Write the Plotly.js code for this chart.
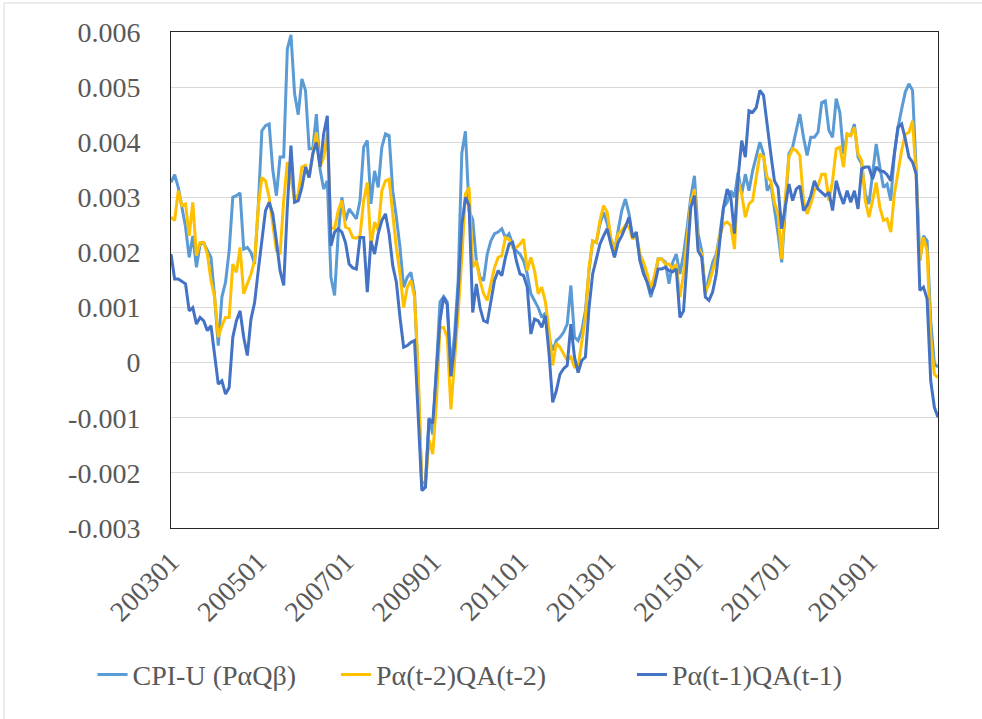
<!DOCTYPE html>
<html>
<head>
<meta charset="utf-8">
<script src="https://cdn.plot.ly/plotly-3.0.1.min.js"></script>
<style>html,body{margin:0;padding:0;background:#fff;}#chart{width:982px;height:719px;}</style>
</head>
<body>
<div id="chart"></div>
<script>
const months = [
'200301','200302','200303','200304','200305','200306','200307','200308','200309','200310','200311','200312',
'200401','200402','200403','200404','200405','200406','200407','200408','200409','200410','200411','200412',
'200501','200502','200503','200504','200505','200506','200507','200508','200509','200510','200511','200512',
'200601','200602','200603','200604','200605','200606','200607','200608','200609','200610','200611','200612',
'200701','200702','200703','200704','200705','200706','200707','200708','200709','200710','200711','200712',
'200801','200802','200803','200804','200805','200806','200807','200808','200809','200810','200811','200812',
'200901','200902','200903','200904','200905','200906','200907','200908','200909','200910','200911','200912',
'201001','201002','201003','201004','201005','201006','201007','201008','201009','201010','201011','201012',
'201101','201102','201103','201104','201105','201106','201107','201108','201109','201110','201111','201112',
'201201','201202','201203','201204','201205','201206','201207','201208','201209','201210','201211','201212',
'201301','201302','201303','201304','201305','201306','201307','201308','201309','201310','201311','201312',
'201401','201402','201403','201404','201405','201406','201407','201408','201409','201410','201411','201412',
'201501','201502','201503','201504','201505','201506','201507','201508','201509','201510','201511','201512',
'201601','201602','201603','201604','201605','201606','201607','201608','201609','201610','201611','201612',
'201701','201702','201703','201704','201705','201706','201707','201708','201709','201710','201711','201712',
'201801','201802','201803','201804','201805','201806','201807','201808','201809','201810','201811','201812',
'201901','201902','201903','201904','201905','201906','201907','201908','201909','201910','201911','201912',
'202001','202002','202003','202004','202005','202006','202007','202008'
];

const cpiU = [
0.00327,0.00341,0.00318,0.00282,0.00246,0.00191,0.00230,0.00173,0.00215,0.00217,0.00203,0.00191,
0.00119,0.00031,0.00119,0.00146,0.00203,0.00300,0.00303,0.00308,0.00206,0.00209,0.00200,0.00179,
0.00282,0.00421,0.00430,0.00433,0.00350,0.00303,0.00373,0.00373,0.00569,0.00595,0.00488,0.00450,
0.00515,0.00494,0.00388,0.00388,0.00451,0.00351,0.00315,0.00330,0.00155,0.00122,0.00234,0.00300,
0.00258,0.00279,0.00270,0.00261,0.00294,0.00391,0.00403,0.00288,0.00348,0.00318,0.00391,0.00415,
0.00412,0.00312,0.00264,0.00209,0.00137,0.00155,0.00164,0.00125,-0.00030,-0.00225,-0.00215,-0.00100,
-0.00130,-0.00020,0.00110,0.00120,0.00110,-0.00010,0.00050,0.00150,0.00380,0.00420,0.00275,0.00260,
0.00185,0.00155,0.00149,0.00197,0.00221,0.00234,0.00237,0.00243,0.00227,0.00234,0.00215,0.00203,
0.00197,0.00185,0.00161,0.00125,0.00113,0.00100,0.00082,0.00090,0.00045,0.00022,0.00040,0.00046,
0.00055,0.00070,0.00140,0.00046,0.00040,0.00058,0.00094,0.00167,0.00221,0.00218,0.00252,0.00273,
0.00252,0.00224,0.00203,0.00243,0.00276,0.00297,0.00270,0.00227,0.00234,0.00188,0.00167,0.00146,
0.00119,0.00146,0.00188,0.00188,0.00182,0.00143,0.00182,0.00197,0.00161,0.00197,0.00246,0.00300,
0.00339,0.00234,0.00203,0.00125,0.00155,0.00182,0.00197,0.00234,0.00282,0.00291,0.00312,0.00300,
0.00345,0.00306,0.00342,0.00312,0.00348,0.00376,0.00400,0.00379,0.00312,0.00324,0.00282,0.00234,
0.00182,0.00282,0.00379,0.00391,0.00421,0.00451,0.00409,0.00376,0.00409,0.00409,0.00418,0.00472,
0.00475,0.00421,0.00409,0.00479,0.00454,0.00379,0.00415,0.00412,0.00433,0.00373,0.00361,0.00306,
0.00288,0.00342,0.00397,0.00355,0.00318,0.00324,0.00294,0.00379,0.00427,0.00460,0.00491,0.00506,
0.00494,0.00348,0.00185,0.00230,0.00221,0.00076,-0.00002,-0.00008
];

const lagTwo = [
0.00264,0.00258,0.00312,0.00285,0.00288,0.00230,0.00291,0.00194,0.00218,0.00218,0.00197,0.00149,
0.00119,0.00046,0.00067,0.00082,0.00082,0.00179,0.00164,0.00209,0.00125,0.00143,0.00161,0.00185,
0.00282,0.00336,0.00330,0.00300,0.00252,0.00203,0.00197,0.00294,0.00364,0.00336,0.00294,0.00306,
0.00355,0.00358,0.00336,0.00379,0.00418,0.00355,0.00373,0.00415,0.00246,0.00243,0.00276,0.00294,
0.00246,0.00243,0.00227,0.00226,0.00230,0.00294,0.00327,0.00209,0.00255,0.00240,0.00312,0.00330,
0.00333,0.00270,0.00209,0.00161,0.00100,0.00137,0.00149,0.00119,-0.00015,-0.00226,-0.00220,-0.00140,
-0.00166,-0.00075,0.00064,0.00064,0.00046,-0.00085,0.00000,0.00090,0.00190,0.00306,0.00318,0.00173,
0.00185,0.00149,0.00125,0.00113,0.00143,0.00173,0.00191,0.00194,0.00227,0.00224,0.00209,0.00209,
0.00215,0.00224,0.00167,0.00191,0.00167,0.00125,0.00137,0.00110,0.00058,-0.00005,0.00035,0.00028,
0.00016,0.00004,0.00010,-0.00008,-0.00008,0.00040,0.00082,0.00173,0.00221,0.00218,0.00258,0.00285,
0.00273,0.00227,0.00203,0.00234,0.00240,0.00249,0.00246,0.00224,0.00234,0.00197,0.00182,0.00161,
0.00134,0.00158,0.00188,0.00188,0.00179,0.00179,0.00170,0.00179,0.00119,0.00161,0.00227,0.00291,
0.00315,0.00209,0.00197,0.00128,0.00143,0.00167,0.00191,0.00230,0.00252,0.00255,0.00249,0.00206,
0.00330,0.00306,0.00264,0.00288,0.00294,0.00336,0.00379,0.00373,0.00336,0.00330,0.00291,0.00270,
0.00188,0.00300,0.00373,0.00388,0.00385,0.00376,0.00294,0.00270,0.00288,0.00312,0.00321,0.00342,
0.00342,0.00294,0.00330,0.00388,0.00391,0.00355,0.00415,0.00412,0.00427,0.00379,0.00367,0.00294,
0.00264,0.00294,0.00327,0.00282,0.00258,0.00261,0.00237,0.00306,0.00348,0.00385,0.00415,0.00418,
0.00439,0.00339,0.00185,0.00227,0.00203,0.00046,-0.00021,-0.00027
];

const lagOne = [
0.00197,0.00152,0.00152,0.00148,0.00143,0.00094,0.00100,0.00070,0.00082,0.00076,0.00058,0.00067,
0.00010,-0.00039,-0.00033,-0.00057,-0.00045,0.00046,0.00076,0.00094,0.00046,0.00013,0.00079,0.00109,
0.00167,0.00227,0.00276,0.00291,0.00270,0.00221,0.00167,0.00140,0.00282,0.00394,0.00291,0.00294,
0.00318,0.00355,0.00336,0.00379,0.00400,0.00355,0.00415,0.00448,0.00212,0.00237,0.00243,0.00237,
0.00218,0.00179,0.00172,0.00170,0.00227,0.00227,0.00128,0.00221,0.00197,0.00234,0.00258,0.00270,
0.00234,0.00176,0.00146,0.00082,0.00028,0.00031,0.00037,0.00040,-0.00099,-0.00232,-0.00226,-0.00102,
-0.00110,-0.00015,0.00076,0.00119,0.00105,-0.00025,0.00030,0.00130,0.00250,0.00300,0.00285,0.00091,
0.00143,0.00100,0.00076,0.00073,0.00113,0.00149,0.00167,0.00158,0.00191,0.00215,0.00218,0.00185,
0.00161,0.00158,0.00137,0.00052,0.00079,0.00076,0.00064,0.00085,0.00016,-0.00072,-0.00051,-0.00021,
-0.00011,-0.00005,0.00070,0.00010,-0.00018,0.00004,0.00010,0.00100,0.00161,0.00191,0.00215,0.00230,
0.00243,0.00215,0.00191,0.00218,0.00230,0.00246,0.00264,0.00227,0.00237,0.00185,0.00161,0.00146,
0.00125,0.00140,0.00170,0.00170,0.00173,0.00167,0.00165,0.00170,0.00082,0.00094,0.00191,0.00282,
0.00303,0.00203,0.00191,0.00119,0.00113,0.00128,0.00161,0.00221,0.00282,0.00315,0.00300,0.00234,
0.00336,0.00403,0.00373,0.00457,0.00454,0.00463,0.00494,0.00485,0.00427,0.00379,0.00330,0.00318,
0.00243,0.00282,0.00324,0.00294,0.00315,0.00321,0.00276,0.00285,0.00303,0.00330,0.00315,0.00309,
0.00303,0.00309,0.00276,0.00330,0.00306,0.00288,0.00312,0.00291,0.00312,0.00279,0.00352,0.00355,
0.00355,0.00333,0.00355,0.00348,0.00347,0.00341,0.00330,0.00379,0.00427,0.00433,0.00406,0.00373,
0.00364,0.00342,0.00131,0.00137,0.00116,-0.00033,-0.00081,-0.00099
];

const seriesNames = ['CPI-U (P\u03b1Q\u03b2)', 'P\u03b1(t-2)QA(t-2)', 'P\u03b1(t-1)QA(t-1)'];
const xTickLabels = ['200301','200501','200701','200901','201101','201301','201501','201701','201901'];
const yTickVals = [-0.003,-0.002,-0.001,0,0.001,0.002,0.003,0.004,0.005,0.006];
const yTickText = ['-0.003','-0.002','-0.001','0','0.001','0.002','0.003','0.004','0.005','0.006'];

const FONT = 'Liberation Serif, Times New Roman, serif';
const colors = ['#5B9BD5', '#FFC000', '#4472C4'];
const values = [cpiU, lagTwo, lagOne];
const legendIds = ['legend', 'legend2', 'legend3'];

const traces = values.map((v, k) => ({
  type: 'scatter', mode: 'lines', x: months, y: v, name: seriesNames[k],
  line: {color: colors[k], width: 3}, legend: legendIds[k], hoverinfo: 'x+y'
}));

const legendBase = {orientation: 'h', yanchor: 'middle', xanchor: 'left', y: -0.296,
  font: {family: FONT, size: 28, color: '#595959'}, bgcolor: 'rgba(0,0,0,0)', itemwidth: 30};

const layout = {
  width: 982, height: 719,
  margin: {l: 171, r: 44, t: 32, b: 191},
  paper_bgcolor: '#ffffff', plot_bgcolor: '#ffffff',
  font: {family: FONT, size: 28, color: '#595959'},
  showlegend: true,
  legend: Object.assign({}, legendBase, {x: -0.1023}),
  legend2: Object.assign({}, legendBase, {x: 0.2151}),
  legend3: Object.assign({}, legendBase, {x: 0.6010}),
  xaxis: {
    type: 'category', range: [0, months.length - 1],
    tickmode: 'array', tickvals: xTickLabels, ticktext: xTickLabels,
    tickangle: -45, ticks: '', showgrid: false, zeroline: false,
    showline: true, mirror: true, linecolor: '#262626', linewidth: 1,
    tickfont: {family: FONT, size: 28, color: '#595959'}, ticklabelstandoff: 5
  },
  yaxis: {
    range: [-0.003, 0.006], tickmode: 'array', tickvals: yTickVals, ticktext: yTickText,
    ticks: '', showgrid: true, gridcolor: '#D9D9D9', gridwidth: 1, zeroline: false,
    showline: true, mirror: true, linecolor: '#262626', linewidth: 1,
    tickfont: {family: FONT, size: 28, color: '#595959'}, ticklabelstandoff: 24
  },
  shapes: [
    {type: 'rect', xref: 'paper', yref: 'paper', x0: -0.2177, x1: 1.068, y0: -0.407, y1: 1.0585,
     line: {color: '#D9D9D9', width: 1}, fillcolor: 'rgba(0,0,0,0)', layer: 'below'}
  ]
};

Plotly.newPlot('chart', traces, layout, {displayModeBar: false, staticPlot: true});
</script>
</body>
</html>
